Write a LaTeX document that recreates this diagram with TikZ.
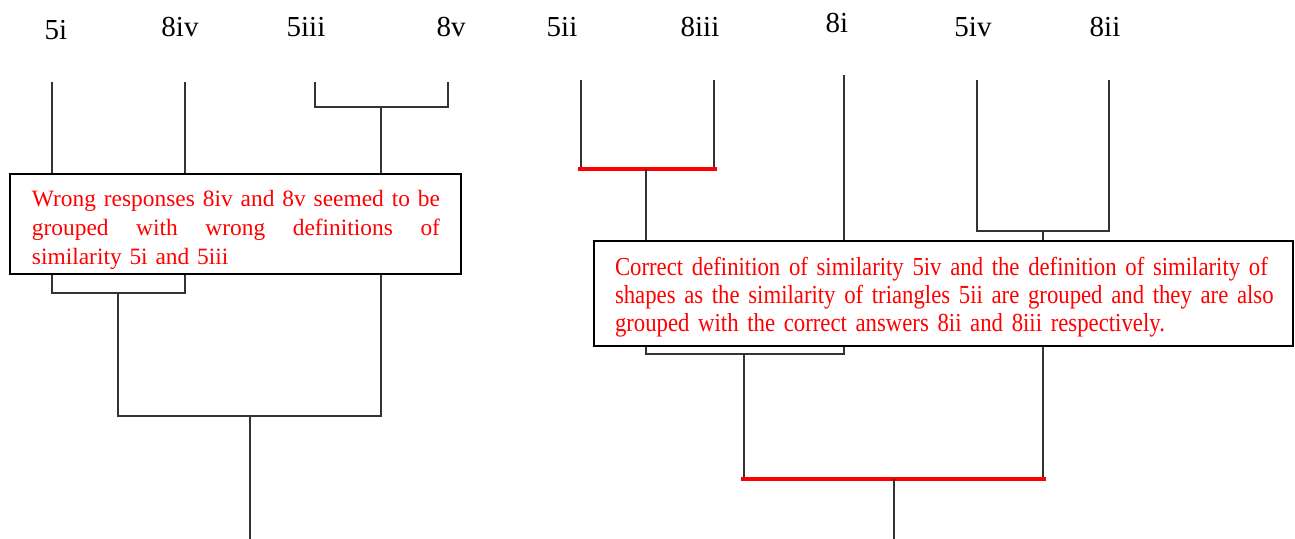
\documentclass[tikz,border=0pt]{standalone}
\usepackage{fontspec}
\setmainfont{Liberation Serif}
\newfontfamily\condfont[FakeStretch=0.875]{Liberation Serif}
\newcommand{\fitline}[2]{\leavevmode\hbox to #1{#2}}
\begin{document}
\begin{tikzpicture}[x=0.5pt,y=-0.5pt,
  tree/.style={draw=black!80, line width=0.8pt},
  redbar/.style={draw=red, line width=2pt, shorten <=-1.5pt, shorten >=-1.5pt},
  leaf/.style={font=\fontsize{14.5}{16}\selectfont, inner sep=0pt},
  notebox/.style={draw=black, line width=1pt, fill=white, anchor=north west, outer sep=0pt, inner sep=0pt},
  notetext/.style={text=red, inner sep=0pt, align=left}]
\useasboundingbox (0,0) rectangle (1295,539);
% leaf labels
\node[leaf] (l5i) at (56,30) {5i};
\node[leaf] (l8iv) at (180,27) {8iv};
\node[leaf] (l5iii) at (306,27) {5iii};
\node[leaf] (l8v) at (451,27) {8v};
\node[leaf] (l5ii) at (562,27) {5ii};
\node[leaf] (l8iii) at (700,27) {8iii};
\node[leaf] (l8i) at (837,23) {8i};
\node[leaf] (l5iv) at (973,27) {5iv};
\node[leaf] (l8ii) at (1105,27) {8ii};
% leaf line tops
\coordinate (c5i) at (52,82);
\coordinate (c8iv) at (185,82);
\coordinate (c5iii) at (315,82);
\coordinate (c8v) at (448,82);
\coordinate (c5ii) at (581,80);
\coordinate (c8iii) at (714,80);
\coordinate (c8i) at (844,75);
\coordinate (c5iv) at (977,80);
\coordinate (c8ii) at (1109,80);
% junctions
\coordinate (j1) at (118,293);
\coordinate (j2) at (381,107);
\coordinate (j3) at (250,416);
\coordinate (r1) at (250,539);
\coordinate (k1) at (646,169);
\coordinate (k2) at (1043,231);
\coordinate (k3) at (744,354);
\coordinate (k4) at (894,479);
\coordinate (r2) at (894,539);
% left tree
\draw[tree] (c5i) |- (j1) -| (c8iv);
\draw[tree] (c5iii) |- (j2) -| (c8v);
\draw[tree] (j1) |- (j3) -| (j2);
\draw[tree] (j3) -- (r1);
% right tree
\draw[tree] (c5ii) -- (c5ii |- k1);
\draw[tree] (c8iii) -- (c8iii |- k1);
\draw[redbar] (c5ii |- k1) -- (c8iii |- k1);
\draw[tree] (c5iv) |- (k2) -| (c8ii);
\draw[tree] (k1) |- (k3) -| (c8i);
\draw[tree] (k3) -- (k3 |- k4);
\draw[tree] (k2) -- (k2 |- k4);
\draw[redbar] (k3 |- k4) -- (k2 |- k4);
\draw[tree] (k4) -- (r2);
% notes
\node[notebox, minimum width=225.5pt, minimum height=50pt] (n1) at (10,174) {};
\node[notetext, text width=204pt, font=\fontsize{11.7}{14.3}\selectfont] (t1) at ([xshift=0.25pt,yshift=-3pt]n1.center)
  {\fitline{204pt}{Wrong\hfill responses\hfill 8iv\hfill and\hfill 8v\hfill seemed\hfill to\hfill be}\\
   \fitline{204pt}{grouped\hfill with\hfill wrong\hfill definitions\hfill of}\\
   similarity 5i and 5iii};
\node[notebox, minimum width=349.5pt, minimum height=52.5pt] (n2) at (594,241) {};
\node[notetext, text width=328.5pt, font=\condfont\fontsize{13}{14}\selectfont] (t2) at ([yshift=-2pt]n2.center)
  {\fitline{328.5pt}{Correct definition of similarity 5iv and the definition of similarity of\hss}\\
   \fitline{328.5pt}{shapes as the similarity of triangles 5ii are grouped and they are also\hss}\\
   \fitline{328.5pt}{grouped with the correct answers 8ii and 8iii respectively.\hss}};
\end{tikzpicture}
\end{document}
